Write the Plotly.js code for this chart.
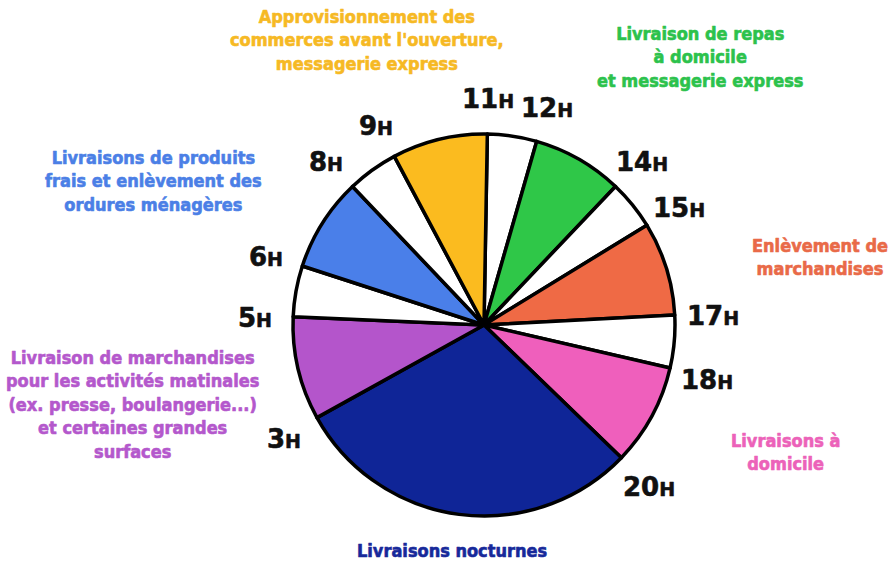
<!DOCTYPE html>
<html>
<head>
<meta charset="utf-8">
<script src="https://cdn.plot.ly/plotly-3.0.1.min.js"></script>
<style>html,body{margin:0;padding:0;background:#fff;}#chart{width:891px;height:561px;}</style>
</head>
<body>
<div id="chart"></div>
<script>
// Slices (clockwise from 11H), angular share (degrees)
const slots = ["11H-12H","12H-14H","14H-15H","15H-17H","17H-18H","18H-20H","20H-3H","3H-5H","5H-6H","6H-8H","8H-9H","9H-11H"];
const spans = [15, 27.5, 15, 28.5, 16, 31, 107, 31.5, 15.5, 28.5, 15.5, 29];
const sliceColors = ["#ffffff","#2fc748","#ffffff","#ef6a45","#ffffff","#ef5fbc","#0f2597","#b455cb","#ffffff","#4a7fe9","#ffffff","#fbbb1f"];
// hour boundary labels (start hour of each slice)
const hours = ["11","12","14","15","17","18","20","3","5","6","8","9"];
// activity descriptions
const descTexts = [
  "Approvisionnement des<br>commerces avant l'ouverture,<br>messagerie express",
  "Livraison de repas<br>à domicile<br>et messagerie express",
  "Livraisons de produits<br>frais et enlèvement des<br>ordures ménagères",
  "Enlèvement de<br>marchandises",
  "Livraison de marchandises<br>pour les activités matinales<br>(ex. presse, boulangerie...)<br>et certaines grandes<br>surfaces",
  "Livraisons à<br>domicile",
  "Livraisons nocturnes"
];
const descColors = ["#f6b924","#2cc24c","#4b7fe6","#e96a48","#b458cc","#ec62b9","#17299a"];
const descPos = [[367,40],[700,57],[153,181],[820,257],[132,404],[785,452],[452,550]];

const W = 891, H = 561;
const cx = 484, cy = 325, R = 191;
const startAngle = 1;

const annotations = [];
let acc = startAngle;
const total = spans.reduce((a,b)=>a+b,0);
for (let i = 0; i < spans.length; i++) {
  const ang = acc * Math.PI / 180;
  const rr = R * 1.2;
  const px = cx + rr * Math.sin(ang);
  const py = cy - rr * Math.cos(ang) + 3;
  annotations.push({
    xref: "paper", yref: "paper", x: px / W, y: 1 - py / H,
    xanchor: "center", yanchor: "middle", showarrow: false,
    text: hours[i] + "<span style='font-size:19px'>H</span>",
    font: {family: "DejaVu Sans", size: 26, color: "#111", weight: "bold"}
  });
  acc += spans[i] * 360 / total;
}
for (let i = 0; i < descTexts.length; i++) {
  annotations.push({
    xref: "paper", yref: "paper", x: descPos[i][0] / W, y: 1 - descPos[i][1] / H,
    xanchor: "center", yanchor: "middle", align: "center", showarrow: false,
    text: "<b>" + descTexts[i] + "</b>",
    font: {family: "DejaVu Sans Condensed, Liberation Sans Narrow, sans-serif", size: 18, color: descColors[i]}
  });
}

const trace = {
  type: "pie",
  labels: slots,
  values: spans,
  sort: false,
  direction: "clockwise",
  rotation: startAngle,
  textinfo: "none",
  hoverinfo: "label",
  marker: {colors: sliceColors, line: {color: "#000", width: 3.5}},
  domain: {x: [(cx - R) / W, (cx + R) / W], y: [(H - cy - R) / H, (H - cy + R) / H]},
  showlegend: false
};

Plotly.newPlot("chart", [trace], {
  width: W, height: H,
  margin: {l: 0, r: 0, t: 0, b: 0},
  paper_bgcolor: "#fff",
  showlegend: false,
  annotations: annotations
}, {displayModeBar: false, staticPlot: true}).then(function(gd){
  // thicken glyph strokes slightly to mimic the heavy typeface
  gd.querySelectorAll(".annotation-text").forEach(function(t){
    const fill = t.style.fill || t.getAttribute("fill") || "#000";
    t.style.stroke = fill;
    t.style.strokeWidth = "0.6px";
    t.style.strokeLinejoin = "round";
  });
});
</script>
</body>
</html>
